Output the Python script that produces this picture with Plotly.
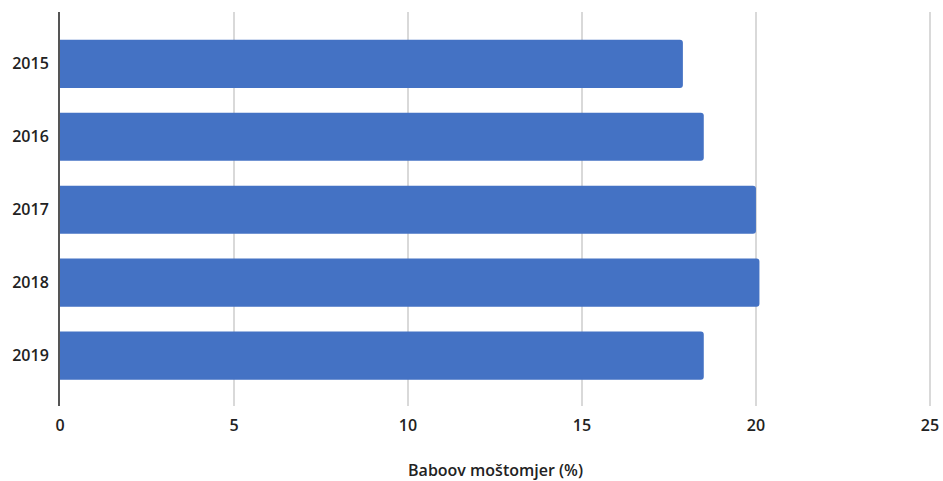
import plotly.graph_objects as go

# Data
years = ["2015", "2016", "2017", "2018", "2019"]
values = [17.9, 18.5, 20.0, 20.1, 18.5]
x_ticks = [0, 5, 10, 15, 20, 25]

BAR_COLOR = "#4472C4"
GRID_COLOR = "#D9D9D9"
TEXT_COLOR = "#222222"
FONT = "Open Sans"
TEXT_FONT = dict(family=FONT, size=16, color=TEXT_COLOR, weight=600)

fig = go.Figure(
    go.Bar(
        x=values,
        y=years,
        orientation="h",
        marker=dict(color=BAR_COLOR, line=dict(width=0), cornerradius=3),
        hoverinfo="x+y",
    )
)

fig.update_layout(
    width=943,
    height=481,
    margin=dict(l=60, r=12, t=12, b=75),
    paper_bgcolor="white",
    plot_bgcolor="white",
    bargap=0.34,
    showlegend=False,
    font=TEXT_FONT,
)

fig.update_xaxes(
    range=[0, 25.03],
    tickvals=x_ticks,
    showgrid=True,
    gridcolor=GRID_COLOR,
    gridwidth=2,
    zeroline=False,
    showline=False,
    ticks="",
    automargin=False,
    ticklabelstandoff=8,
    tickfont=TEXT_FONT,
    title=dict(text="Baboov moštomjer (%)", font=TEXT_FONT, standoff=31),
)

fig.update_yaxes(
    categoryorder="array",
    categoryarray=years,
    range=[4.69, -0.71],
    showgrid=False,
    zeroline=False,
    showline=True,
    linecolor="#555555",
    linewidth=2,
    ticks="",
    automargin=False,
    ticklabelstandoff=6,
    tickfont=TEXT_FONT,
)

fig.write_html("out.html")
